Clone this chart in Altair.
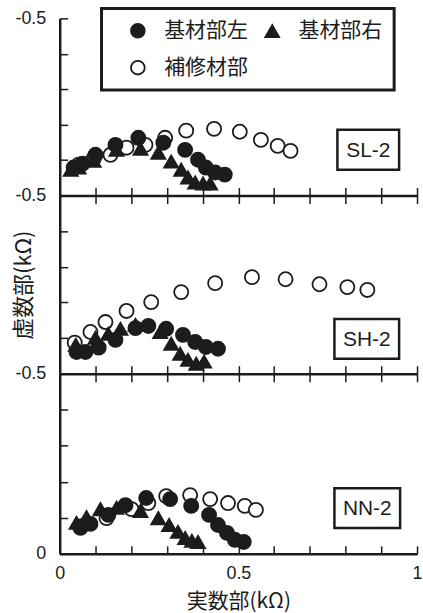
import altair as alt
import pandas as pd

INK = "#1c1c1c"
SERIES = ["基材部左", "基材部右", "補修材部"]
SHAPES = ["circle", "triangle-up", "circle"]
FILLS = [INK, INK, "white"]

# ---- SL-2 ----
sl2_left_x = [0.039, 0.064, 0.100, 0.156, 0.220, 0.290, 0.351, 0.387, 0.409, 0.435, 0.462]
sl2_left_y = [-0.079, -0.090, -0.115, -0.143, -0.163, -0.149, -0.129, -0.101, -0.079, -0.065, -0.059]
sl2_right_x = [0.031, 0.053, 0.095, 0.159, 0.226, 0.276, 0.312, 0.340, 0.359, 0.379, 0.401, 0.421]
sl2_right_y = [-0.073, -0.079, -0.098, -0.129, -0.132, -0.121, -0.096, -0.073, -0.051, -0.037, -0.034, -0.034]
sl2_rep_x = [0.053, 0.095, 0.142, 0.187, 0.240, 0.295, 0.354, 0.432, 0.504, 0.563, 0.610, 0.646]
sl2_rep_y = [-0.087, -0.104, -0.115, -0.135, -0.143, -0.163, -0.183, -0.188, -0.180, -0.157, -0.140, -0.126]

# ---- SH-2 ----
sh2_left_x = [0.047, 0.072, 0.109, 0.156, 0.212, 0.248, 0.298, 0.345, 0.379, 0.409, 0.443]
sh2_left_y = [-0.061, -0.061, -0.073, -0.095, -0.128, -0.134, -0.126, -0.109, -0.089, -0.075, -0.070]
sh2_right_x = [0.045, 0.100, 0.136, 0.170, 0.212, 0.281, 0.312, 0.337, 0.359, 0.382, 0.404]
sh2_right_y = [-0.081, -0.101, -0.112, -0.126, -0.137, -0.117, -0.084, -0.056, -0.039, -0.028, -0.034]
sh2_rep_x = [0.042, 0.086, 0.128, 0.187, 0.256, 0.340, 0.435, 0.538, 0.632, 0.727, 0.805, 0.861]
sh2_rep_y = [-0.087, -0.117, -0.145, -0.176, -0.201, -0.229, -0.254, -0.271, -0.265, -0.251, -0.243, -0.235]

# ---- NN-2 ----
nn2_left_x = [0.058, 0.086, 0.136, 0.184, 0.242, 0.309, 0.368, 0.418, 0.443, 0.468, 0.490, 0.515]
nn2_left_y = [-0.072, -0.083, -0.108, -0.135, -0.155, -0.152, -0.133, -0.108, -0.080, -0.058, -0.039, -0.033]
nn2_right_x = [0.047, 0.075, 0.114, 0.159, 0.226, 0.276, 0.306, 0.331, 0.351, 0.370, 0.387]
nn2_right_y = [-0.086, -0.102, -0.124, -0.128, -0.119, -0.099, -0.080, -0.061, -0.044, -0.036, -0.033]
nn2_rep_x = [0.061, 0.131, 0.201, 0.248, 0.298, 0.365, 0.421, 0.471, 0.518, 0.549]
nn2_rep_y = [-0.077, -0.099, -0.124, -0.141, -0.160, -0.163, -0.152, -0.141, -0.133, -0.122]

x_tick_values = [0, 0.1, 0.2, 0.3, 0.4, 0.5, 0.6, 0.7, 0.8, 0.9, 1]
y_tick_values = [-0.5, -0.4, -0.3, -0.2, -0.1]
x_label_values = [0, 0.5, 1]

W = 359
INWARD = {"expr": "-8"}


def make_df(lx, ly, rx, ry, ox, oy):
    rows = []
    # draw order: repair (open) under, then triangles, then filled circles
    for x, y in zip(ox, oy):
        rows.append({"re": x, "im": y, "series": SERIES[2]})
    for x, y in zip(rx, ry):
        rows.append({"re": x, "im": y, "series": SERIES[1]})
    for x, y in zip(lx, ly):
        rows.append({"re": x, "im": y, "series": SERIES[0]})
    return pd.DataFrame(rows)


xs = alt.Scale(domain=[0, 1], nice=False, zero=False)
ys = alt.Scale(domain=[-0.5, 0], reverse=True, nice=False, zero=False)

legend = alt.Legend(
    title=None, orient="none", legendX=42, legendY=-10, columns=2, direction="horizontal",
    labelFont="Noto Sans CJK JP", labelFontSize=21, labelColor=INK,
    symbolSize=190, symbolStrokeWidth=1.8,
    padding=12, strokeColor=INK, fillColor="white",
    rowPadding=15, columnPadding=-4, symbolOffset=14, labelOffset=16,
)

x_lab_expr = "datum.value == 0 || datum.value == 0.5 || datum.value == 1 ? '' + datum.value : ''"
y_lab_expr = "datum.value == -0.5 || datum.value == 0 ? '' + datum.value : ''"


def panel(df, name, h, box, first=False, last=False, y_title=False):
    if last:
        xaxis = alt.Axis(values=x_tick_values, labelExpr=x_lab_expr, ticks=True, tickSize=INWARD,
                         tickColor=INK, tickWidth=1.5,
                         labelPadding=19, labelFlush=False, grid=False, title="実数部(kΩ)",
                         titleY=48, titleBaseline="middle", titleFontSize=21)
    else:
        xaxis = alt.Axis(values=x_tick_values, labels=False, ticks=True, tickSize=INWARD,
                         tickColor=INK, tickWidth=1.5, grid=False, title=None)
    yvals = y_tick_values + [0] if last else y_tick_values
    common_y = dict(values=yvals, labelExpr=y_lab_expr, ticks=True, tickSize=INWARD,
                    tickColor=INK, tickWidth=1.5, labelPadding=22, grid=False)
    if y_title:
        yaxis = alt.Axis(title="虚数部(kΩ)", titleX=-36, titleAngle=-90, titleAlign="center",
                         titleBaseline="middle", **common_y)
    else:
        yaxis = alt.Axis(title=None, **common_y)
    leg = legend if first else None
    pts = alt.Chart(df).mark_point(filled=True, size=200, strokeWidth=1.8, opacity=1).encode(
        x=alt.X("re:Q", scale=xs, axis=xaxis),
        y=alt.Y("im:Q", scale=ys, axis=yaxis),
        shape=alt.Shape("series:N", scale=alt.Scale(domain=SERIES, range=SHAPES), legend=leg),
        fill=alt.Fill("series:N", scale=alt.Scale(domain=SERIES, range=FILLS), legend=leg),
        stroke=alt.Stroke("series:N", scale=alt.Scale(domain=SERIES, range=[INK, INK, INK]), legend=leg),
    )
    layers = [pts]
    if not first:
        top_axis = alt.Axis(orient="top", values=x_tick_values, labels=False, domain=False, ticks=True,
                            tickSize=INWARD, tickColor=INK, tickWidth=1.5, grid=False, title=None)
        layers.append(alt.Chart(pd.DataFrame({"re": x_tick_values})).mark_point(opacity=0).encode(
            x=alt.X("re:Q", scale=xs, axis=top_axis)))
    lab = pd.DataFrame({"t": [name]})
    x0, x1, y0, y1 = box
    layers.append(alt.Chart(lab).mark_rect(fill="white", stroke=INK, strokeWidth=2.5).encode(
        x=alt.value(x0), x2=alt.value(x1), y=alt.value(y0), y2=alt.value(y1)))
    layers.append(alt.Chart(lab).mark_text(font="Liberation Sans", fontSize=21, color=INK).encode(
        x=alt.value((x0 + x1) / 2), y=alt.value((y0 + y1) / 2 + 1), text="t:N"))
    ch = alt.layer(*layers)
    if not first:
        ch = ch.resolve_axis(x="independent")
    return ch.properties(width=W, height=h)


p1 = panel(make_df(sl2_left_x, sl2_left_y, sl2_right_x, sl2_right_y, sl2_rep_x, sl2_rep_y),
           "SL-2", 178, (279, 341, 112, 152), first=True)
p2 = panel(make_df(sh2_left_x, sh2_left_y, sh2_right_x, sh2_right_y, sh2_rep_x, sh2_rep_y),
           "SH-2", 179, (276, 341, 124, 164), y_title=True)
p3 = panel(make_df(nn2_left_x, nn2_left_y, nn2_right_x, nn2_right_y, nn2_rep_x, nn2_rep_y),
           "NN-2", 181, (276, 342, 115, 155), last=True)

chart = alt.vconcat(p1, p2, p3, spacing=0, bounds="flush").properties(
    padding={"left": 13, "top": 5, "right": 0, "bottom": 2}
).configure_view(stroke=None).configure_axis(
    labelFont="Liberation Sans", labelFontSize=18, labelColor=INK,
    titleFont="Noto Sans CJK JP", titleFontSize=22, titleFontWeight="normal", titleColor=INK,
    domainColor=INK, domainWidth=2.5,
).configure_legend(strokeWidth=3)

chart.save("out.html", embed_options={"renderer": "svg", "actions": False})
